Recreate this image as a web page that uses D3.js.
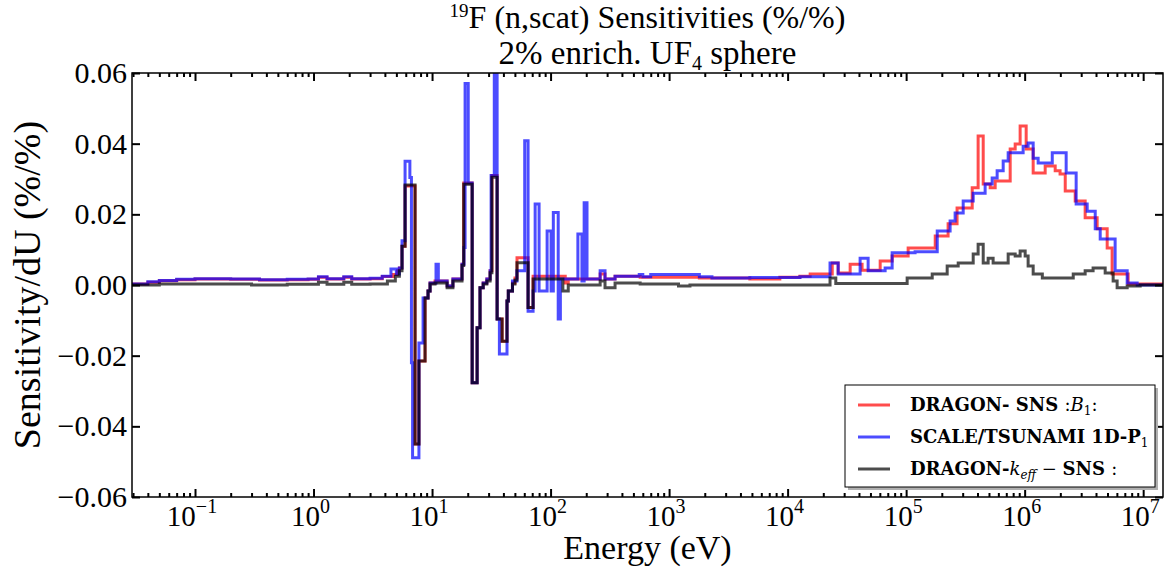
<!DOCTYPE html>
<html>
<head>
<meta charset="utf-8">
<script src="https://cdn.jsdelivr.net/npm/d3@7"></script>
<style>
  body { margin: 0; background: #fff; }
</style>
</head>
<body>
<div id="canvas"></div>
<script>
// group lower energies (eV) and sensitivity values, one step per group
const redE = [0.0294, 0.04, 0.05, 0.07, 0.1, 0.2, 0.35, 0.6, 0.9, 1.1, 1.3, 1.8, 2.1, 3.0, 3.8, 4.7, 5.1, 5.3, 5.58, 5.92,
  7.19, 7.75, 8.73, 9.25, 9.62, 10.6, 13.4, 15.0, 17.9, 18.5, 21.8, 24.0, 25.4, 27.0, 29.0, 30.9, 32.0, 35.4, 39.0, 42.9,
  44.0, 47.7, 50.1, 52.1, 64.6, 71.2, 133, 141, 262, 288, 350, 570, 1800, 4800, 8600, 12700, 15500, 23800, 26700, 33700,
  42500, 60400, 76200, 104000, 176000, 226000, 269000, 361000, 405000, 447000, 512000, 564000, 755000, 832000, 916000,
  1.03e6, 1.18e6, 1.49e6, 1.81e6, 1.99e6, 2.2e6, 2.67e6, 3.24e6, 4.09e6, 4.97e6, 5.47e6, 7.47e6];
const redV = [0.0003, 0.0008, 0.0012, 0.0015, 0.0017, 0.0016, 0.0014, 0.0015, 0.0016, 0.0022, 0.0017, 0.0022, 0.0017, 0.0018,
  0.0024, 0.0030, 0.0040, 0.0048, 0.011, 0.028, -0.045, -0.0215, -0.0037, -0.0017, 0.0006, 0.0011, -0.0003, 0.0017, 0.0059,
  0.0289, -0.0277, -0.0121, -0.0008, 0.0006, 0.0017, 0.004, 0.031, -0.0096, -0.0159, -0.0045, -0.0017, 0.0006, 0.002, 0.0077,
  -0.0064, 0.0025, 0.0006, 0.0017, 0.0031, 0.0017, 0.0025, 0.0022, 0.0020, 0.0017, 0.0022, 0.0025, 0.0031, 0.0062, 0.0034,
  0.0059, 0.0042, 0.0068, 0.0082, 0.0105, 0.0139, 0.0173, 0.0218, 0.0275, 0.0422, 0.0286, 0.0275, 0.0294, 0.0385, 0.0399,
  0.045, 0.0385, 0.0317, 0.0337, 0.0323, 0.0314, 0.0266, 0.0238, 0.019, 0.0159, 0.0105, 0.0031, 0.0003];

const blueE = [0.0294, 0.04, 0.05, 0.07, 0.1, 0.2, 0.35, 0.6, 0.9, 1.1, 1.3, 1.8, 2.1, 3.0, 3.8, 4.5, 5.0, 5.3, 5.58, 5.92,
  6.5, 6.7, 6.85, 7.75, 8.4, 9.25, 9.62, 10.8, 11.3, 13.4, 15.0, 17.9, 18.6, 19.0, 20.2, 21.8, 24.0, 25.4, 27.0, 29.0,
  30.9, 31.5, 33.5, 35.4, 37.0, 42.9, 44.0, 47.7, 52.0, 60.5, 64.6, 71.2, 74.1, 80.0, 93.5, 101, 105.5, 116, 121, 170,
  184, 192, 203, 262, 288, 350, 560, 600, 700, 1800, 2300, 4800, 12700, 22800, 26700, 40900, 47800, 66500, 76200, 119000,
  183000, 235000, 259000, 303000, 368000, 464000, 532000, 586000, 659000, 726000, 971000, 1.07e6, 1.18e6, 1.30e6, 1.71e6,
  2.24e6, 2.72e6, 3.37e6, 3.94e6, 4.34e6, 5.8e6, 7.33e6, 8.9e6];
const blueV = [0.0003, 0.0009, 0.0013, 0.0016, 0.0018, 0.0017, 0.0015, 0.0016, 0.0017, 0.0023, 0.0018, 0.0023, 0.0018, 0.0019,
  0.0025, 0.0045, 0.0031, 0.0048, 0.0125, 0.035, 0.0304, -0.022, -0.0489, -0.0164, -0.0037, -0.0017, 0.0006, 0.0059, 0.0011,
  -0.0003, 0.0017, 0.0059, 0.0106, 0.057, 0.0289, -0.0277, -0.0121, -0.0008, 0.0006, 0.0017, 0.004, 0.031, 0.060, -0.0096,
  -0.0195, -0.0045, -0.0017, 0.0011, 0.004, 0.0408, -0.0074, -0.0017, 0.0229, -0.0017, 0.0153, -0.0017, 0.0205, -0.0096,
  0.0017, 0.0144, 0.0011, 0.0233, 0.0017, 0.004, 0.0017, 0.0025, 0.003, 0.0023, 0.003, 0.0023, 0.002, 0.0021, 0.0023, 0.0062,
  0.0031, 0.0076, 0.004, 0.0048, 0.0091, 0.0094, 0.0153, 0.0181, 0.0204, 0.0238, 0.026, 0.0286, 0.0303, 0.0323, 0.0351,
  0.0374, 0.0393, 0.0402, 0.0359, 0.0345, 0.0374, 0.0317, 0.0229, 0.0209, 0.0159, 0.013, 0.004, 0.0006, 0.0];

const blackE = [0.0294, 0.05, 0.1, 0.3, 0.6, 1.1, 1.3, 1.8, 2.1, 3.0, 4.2, 4.9, 5.3, 5.58, 5.92, 7.19, 7.75, 8.73, 9.25, 9.62,
  10.6, 13.4, 15.0, 17.9, 18.5, 21.8, 24.0, 25.4, 27.0, 29.0, 30.9, 32.0, 35.4, 39.0, 42.9, 44.0, 47.7, 50.1, 52.1, 64.6,
  71.2, 127, 141, 262, 288, 350, 570, 1200, 1500, 22800, 25500, 102000, 166000, 222000, 275000, 368000, 405000, 447000,
  492000, 542000, 726000, 832000, 916000, 1.01e6, 1.07e6, 1.18e6, 1.41e6, 2.57e6, 3.24e6, 3.78e6, 4.78e6, 5.58e6, 6.03e6,
  7.33e6, 9.44e6];
const blackV = [0.0, 0.0003, 0.0003, 0.0, 0.0002, 0.0008, 0.0002, 0.0008, 0.0002, 0.0003, 0.0011, 0.0025, 0.004, 0.011, 0.0283,
  -0.045, -0.0215, -0.0037, -0.0017, 0.0003, 0.0006, -0.0008, 0.0011, 0.0055, 0.0285, -0.0277, -0.0121, -0.0008, 0.0003,
  0.0011, 0.0035, 0.0305, -0.0096, -0.0159, -0.0045, -0.0017, 0.0003, 0.0014, 0.0063, -0.0064, 0.0017, -0.0017, 0.0, 0.0011,
  -0.0008, 0.0006, 0.0003, -0.0003, 0.0, 0.002, 0.0004, 0.002, 0.0031, 0.0054, 0.0062, 0.0088, 0.0115, 0.0062, 0.0076, 0.0062,
  0.0088, 0.0082, 0.0096, 0.0082, 0.0054, 0.0031, 0.002, 0.0031, 0.004, 0.0048, 0.0034, 0.0011, -0.0008, -0.0003, 0.0];

const yTicks = [-0.06, -0.04, -0.02, 0.0, 0.02, 0.04, 0.06];
const yTickLabels = ["\u22120.06", "\u22120.04", "\u22120.02", "0.00", "0.02", "0.04", "0.06"];
const xDecades = [-1, 0, 1, 2, 3, 4, 5, 6, 7];
const xDomain = [0.0294, 1.47e7];

const width = 1169;
const height = 569;
const margin = { top: 73, left: 132, bottom: 72, right: 6 };
const serif = "'Liberation Serif', 'Times New Roman', serif";
const legendFont = "'DejaVu Serif', serif";

const svg = d3.select("#canvas").append("svg")
  .attr("width", width)
  .attr("height", height);

const x = d3.scaleLog().domain(xDomain).range([margin.left, width - margin.right]);
const y = d3.scaleLinear().domain([-0.06, 0.06]).range([height - margin.bottom, margin.top]);

svg.append("clipPath").attr("id", "plotclip")
  .append("rect")
  .attr("x", x.range()[0]).attr("y", y.range()[1])
  .attr("width", x.range()[1] - x.range()[0])
  .attr("height", y.range()[0] - y.range()[1]);

// step lines
const line = d3.line()
  .x((d) => x(d[0]))
  .y((d) => y(d[1]))
  .curve(d3.curveStepAfter);

function steps(E, V) {
  const pts = d3.zip(E, V);
  pts.push([xDomain[1], pts[pts.length - 1][1]]);
  return pts;
}

const series = [
  { name: "red", color: "#ff0000", pts: steps(redE, redV) },
  { name: "blue", color: "#0000ff", pts: steps(blueE, blueV) },
  { name: "black", color: "#000000", pts: steps(blackE, blackV) },
];

svg.append("g").attr("clip-path", "url(#plotclip)")
  .selectAll("path")
  .data(series)
  .enter()
  .append("path")
  .attr("d", (d) => line(d.pts))
  .attr("fill", "none")
  .attr("stroke", (d) => d.color)
  .attr("stroke-opacity", 0.7)
  .attr("stroke-width", 3);

// axes, ticks inward on all four sides
const majorX = xDecades.map((p) => Math.pow(10, p));
const minorX = [];
for (let p = -2; p <= 7; p++) {
  for (let m = 2; m <= 9; m++) {
    const v = m * Math.pow(10, p);
    if (v >= xDomain[0] && v <= xDomain[1]) minorX.push(v);
  }
}

function tickAxis(axis, ty, tx) {
  const gAx = svg.append("g")
    .attr("transform", `translate(${tx},${ty})`)
    .call(axis);
  gAx.select(".domain").remove();
  gAx.selectAll("line").attr("stroke", "#000").attr("stroke-width", 2);
  return gAx;
}

const yb = y.range()[0], yt = y.range()[1];
const xl = x.range()[0], xr = x.range()[1];

tickAxis(d3.axisBottom(x).tickValues(majorX).tickSize(-8).tickFormat(""), yb, 0);
tickAxis(d3.axisBottom(x).tickValues(minorX).tickSize(-4).tickFormat(""), yb, 0);
tickAxis(d3.axisTop(x).tickValues(majorX).tickSize(-8).tickFormat(""), yt, 0);
tickAxis(d3.axisTop(x).tickValues(minorX).tickSize(-4).tickFormat(""), yt, 0);
tickAxis(d3.axisLeft(y).tickValues(yTicks).tickSize(-8).tickFormat(""), 0, xl);
tickAxis(d3.axisRight(y).tickValues(yTicks).tickSize(-8).tickFormat(""), 0, xr);

svg.append("rect")
  .attr("x", xl).attr("y", yt)
  .attr("width", xr - xl).attr("height", yb - yt)
  .attr("fill", "none")
  .attr("stroke", "#000")
  .attr("stroke-width", 1.5);

// tick labels
svg.append("g").selectAll("text")
  .data(yTicks)
  .enter()
  .append("text")
  .attr("x", xl - 5)
  .attr("y", (d) => y(d) + 10)
  .attr("text-anchor", "end")
  .style("font-family", serif)
  .style("font-size", "30px")
  .text((d, i) => yTickLabels[i]);

const xl10 = svg.append("g").selectAll("text")
  .data(xDecades)
  .enter()
  .append("text")
  .attr("x", (d) => x(Math.pow(10, d)) - 3)
  .attr("y", yb + 29)
  .attr("text-anchor", "middle")
  .style("font-family", serif)
  .style("font-size", "29px");
xl10.append("tspan").text("10");
xl10.append("tspan")
  .attr("dy", -13)
  .style("font-size", "20px")
  .text((d) => (d < 0 ? "\u2212" + Math.abs(d) : d));

// axis titles
svg.append("text")
  .attr("x", (xl + xr) / 2)
  .attr("y", 559)
  .attr("text-anchor", "middle")
  .style("font-family", serif)
  .style("font-size", "34px")
  .text("Energy (eV)");

svg.append("text")
  .attr("transform", `translate(40,${(yt + yb) / 2}) rotate(-90)`)
  .attr("text-anchor", "middle")
  .style("font-family", serif)
  .style("font-size", "38px")
  .text("Sensitivity/dU (%/%)");

// title
const t1 = svg.append("text")
  .attr("x", (xl + xr) / 2)
  .attr("y", 28)
  .attr("text-anchor", "middle")
  .style("font-family", serif)
  .style("font-size", "32px");
t1.append("tspan").style("font-size", "19px").attr("dy", -11).text("19");
t1.append("tspan").attr("dy", 11).text("F (n,scat) Sensitivities (%/%)");

const t2 = svg.append("text")
  .attr("x", (xl + xr) / 2)
  .attr("y", 64)
  .attr("text-anchor", "middle")
  .style("font-family", serif)
  .style("font-size", "33px");
t2.append("tspan").text("2% enrich. UF");
t2.append("tspan").style("font-size", "20px").attr("dy", 6).text("4");
t2.append("tspan").attr("dy", -6).text(" sphere");

// legend
const lg = svg.append("g");
lg.append("rect")
  .attr("x", 848).attr("y", 388).attr("width", 310).attr("height", 102)
  .attr("fill", "#b0b0b0");
lg.append("rect")
  .attr("x", 845).attr("y", 385).attr("width", 310).attr("height", 102)
  .attr("fill", "#fff").attr("stroke", "#000").attr("stroke-width", 1);

const legendRows = [0, 1, 2];
legendRows.forEach((i) => {
  const ly = 405 + i * 32;
  lg.append("line")
    .attr("x1", 858).attr("x2", 890).attr("y1", ly).attr("y2", ly)
    .attr("stroke", series[i].color).attr("stroke-opacity", 0.7).attr("stroke-width", 3);
});

function legendText(yy) {
  return lg.append("text").attr("x", 910).attr("y", yy)
    .style("font-family", legendFont)
    .style("font-size", "18px").style("font-weight", "bold");
}

const lt1 = legendText(411);
lt1.append("tspan").text("DRAGON- SNS ");
lt1.append("tspan").style("font-weight", "normal").text(":");
lt1.append("tspan").style("font-weight", "normal").style("font-style", "italic").text("B");
lt1.append("tspan").style("font-weight", "normal").style("font-size", "12px").attr("dy", 4).text("1");
lt1.append("tspan").style("font-weight", "normal").attr("dy", -4).text(":");

const lt2 = legendText(443);
lt2.append("tspan").text("SCALE/TSUNAMI 1D-P");
lt2.append("tspan").style("font-weight", "normal").style("font-size", "12px").attr("dy", 4).text("1");

const lt3 = legendText(475);
lt3.append("tspan").text("DRAGON-");
lt3.append("tspan").style("font-weight", "normal").style("font-style", "italic").text("k");
lt3.append("tspan").style("font-weight", "normal").style("font-style", "italic").style("font-size", "12px").attr("dy", 4).text("eff");
lt3.append("tspan").style("font-weight", "normal").attr("dy", -4).text(" \u2212 ");
lt3.append("tspan").text("SNS ");
lt3.append("tspan").style("font-weight", "normal").text(":");
</script>
</body>
</html>
